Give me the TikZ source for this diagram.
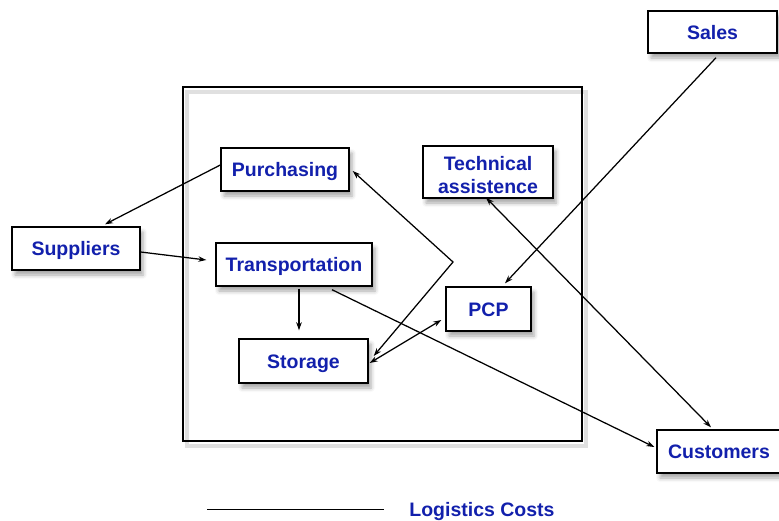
\documentclass[tikz,border=0pt]{standalone}
\usepackage{fontspec}
\setmainfont{Liberation Sans}
\usetikzlibrary{arrows.meta,shadows.blur}
\definecolor{labelblue}{RGB}{18,32,172}
\tikzset{
  labelfont/.style={text=labelblue, font=\bfseries\fontsize{19.5}{23}\selectfont},
  box/.style={draw=black, line width=1.4pt, fill=white, inner sep=0pt, labelfont,
    text height=14pt, text depth=0pt,
    blur shadow={shadow xshift=3pt, shadow yshift=-5pt, shadow blur radius=4pt, shadow opacity=35}},
  plainbox/.style={box, text height=, text depth=},
  boxtext/.style={labelfont, inner sep=0pt, align=center},
  frame/.style={draw=black, line width=1.4pt, inner sep=0pt},
  frameshade/.style={draw=black, line width=4pt, opacity=0.12},
  link/.style={line width=1.25pt, -{Stealth[length=8pt,width=5.5pt]}},
  dlink/.style={line width=1.25pt, {Stealth[length=8pt,width=5.5pt]}-{Stealth[length=8pt,width=5.5pt]}},
  legendline/.style={line width=1.4pt},
  legendtext/.style={labelfont, inner sep=0pt, text height=14pt, text depth=0pt}
}
\begin{document}
\begin{tikzpicture}[x=1pt,y=-1pt]
  \useasboundingbox (0,0) rectangle (779,520);

  % logistics area with a soft outline shade
  \node[frameshade, minimum width=399pt, minimum height=354pt, inner sep=0pt] at (386,269) {};
  \node[frame, minimum width=399pt, minimum height=354pt] (area) at (382.5,264) {};

  % departments and partners
  \node[box, minimum width=128pt, minimum height=43pt] (purch) at (285,169.5) {Purchasing};
  \node[plainbox, minimum width=130pt, minimum height=52pt] (tech) at (488,172) {};
  \node[boxtext] (techtext) at ([yshift=-3.5pt]tech.center) {Technical\\assistence};
  \node[box, minimum width=128pt, minimum height=43pt] (sup) at (76,248.5) {Suppliers};
  \node[box, minimum width=156pt, minimum height=43pt] (trans) at (294,264.5) {Transportation};
  \node[box, minimum width=129pt, minimum height=44pt] (stor) at (303.5,361) {Storage};
  \node[box, minimum width=85pt, minimum height=44pt] (pcp) at (488.5,309) {PCP};
  \node[box, minimum width=129pt, minimum height=42pt] (sales) at (712.5,32) {Sales};
  \node[box, minimum width=124pt, minimum height=43pt] (cust) at (719,451.5) {Customers};

  % flows
  \draw[link] ([yshift=4.5pt]purch.west) -- ([xshift=29pt,yshift=2pt]sup.north);
  \draw[link] ([yshift=-3.5pt]sup.east) -- ([xshift=-9pt,yshift=4.5pt]trans.west);
  \draw[link] ([xshift=5pt,yshift=-2pt]trans.south) -- ([xshift=-4.5pt,yshift=8pt]stor.north);
  \draw[link] ([xshift=38pt,yshift=-3pt]trans.south) -- ([xshift=-2pt,yshift=4.5pt]cust.west);
  \draw[dlink] ([xshift=1pt,yshift=-2pt]stor.east) -- ([xshift=-4pt,yshift=-11pt]pcp.west);
  \coordinate (bend) at (453,262);
  \draw[dlink] ([xshift=5pt,yshift=5pt]stor.east) -- (bend) -- ([xshift=3pt,yshift=-1.5pt]purch.east);
  \draw[link] ([xshift=3.5pt,yshift=-4pt]sales.south) -- ([xshift=16.5pt,yshift=3pt]pcp.north);
  \draw[dlink] ([xshift=-2pt,yshift=1pt]tech.south) -- ([xshift=-8pt,yshift=2pt]cust.north);

  % legend
  \node[legendtext] (legend) at (482,509.5) {Logistics Costs};
  \coordinate (legstart) at (207,509.5);
  \draw[legendline] (legstart) -- ([xshift=-25pt]legend.west);
\end{tikzpicture}
\end{document}
